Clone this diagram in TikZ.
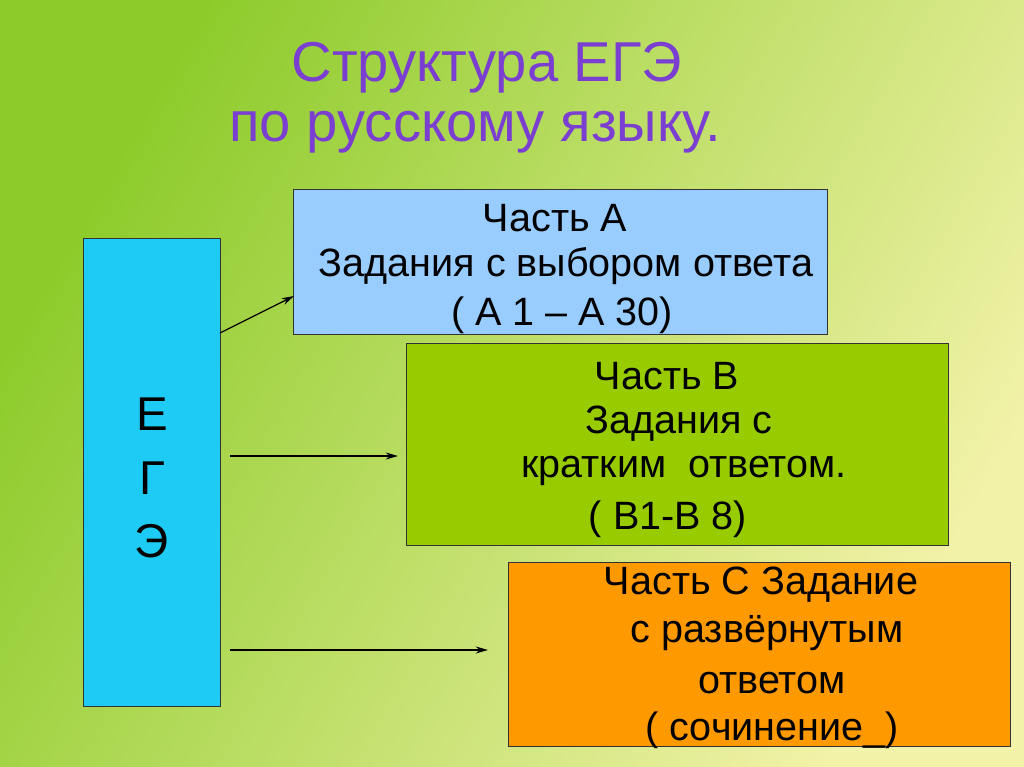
\documentclass[tikz,border=0pt]{standalone}
\usepackage{fontspec}
\setmainfont{Liberation Sans}
\usetikzlibrary{arrows.meta}
\definecolor{bgL}{HTML}{8CCB2A}
\definecolor{bgR}{HTML}{F2F2A8}
\definecolor{cA}{HTML}{99CCFF}
\definecolor{cB}{HTML}{99CC00}
\definecolor{cC}{HTML}{FF9900}
\definecolor{cE}{HTML}{1ECBF4}
\definecolor{cT}{HTML}{7A3FD0}
\begin{document}
\begin{tikzpicture}[x=0.02cm,y=-0.02cm,
  box/.style={draw=black!80,line width=0.6pt,anchor=north west,inner sep=0pt},
  txt/.style={font=\fontsize{22.5pt}{26pt}\selectfont,inner sep=0pt},
  ttl/.style={font=\fontsize{32pt}{36pt}\selectfont,text=cT,inner sep=0pt},
  arr/.style={-{Stealth[length=7pt,width=4pt]},line width=0.7pt}]
\shade[left color=bgL, right color=bgR, shading angle=60] (0,0) rectangle (1024,767);
\useasboundingbox (0,0) rectangle (1024,767);
\node[ttl] (t1) at (487,68) {Структура ЕГЭ};
\node[ttl] (t2) at (475,132) {по русскому языку.};
\node[box,fill=cE,minimum width=2.74cm,minimum height=9.36cm] (e) at (83,238) {};
\node[font=\fontsize{27pt}{30pt}\selectfont] (e1) at (152,414) {Е};
\node[font=\fontsize{27pt}{30pt}\selectfont] (e2) at (152,478) {Г};
\node[font=\fontsize{27pt}{30pt}\selectfont] (e3) at (152,541) {Э};
\node[box,fill=cA,minimum width=10.68cm,minimum height=2.9cm] (a) at (293,189) {};
\node[txt] at (555,218) {Часть А};
\node[txt] at (566,266) {Задания с выбором ответа};
\node[txt] at (562,315) {( А 1 – А 30)};
\node[box,fill=cB,minimum width=10.84cm,minimum height=4.04cm] (b) at (406,343) {};
\node[txt] at (667,376) {Часть В};
\node[txt] at (679,424) {Задания с};
\node[txt] at (684,471) {кратким\ \ ответом.};
\node[txt] at (668,519) {( В1-В 8)};
\node[box,fill=cC,minimum width=10.04cm,minimum height=3.68cm] (c) at (508,562) {};
\node[txt] at (761,585) {Часть С Задание};
\node[txt] at (767,633) {с развёрнутым};
\node[txt] at (772,683) {ответом};
\node[txt] at (772,730) {( сочинение\_)};
\coordinate (s1) at (220,333); \coordinate (d1) at (294,296);
\coordinate (s2) at (230,456); \coordinate (d2) at (398,456);
\coordinate (s3) at (230,650); \coordinate (d3) at (488,650);
\draw[arr] (s1) -- (d1);
\draw[arr] (s2) -- (d2);
\draw[arr] (s3) -- (d3);
\end{tikzpicture}
\end{document}
